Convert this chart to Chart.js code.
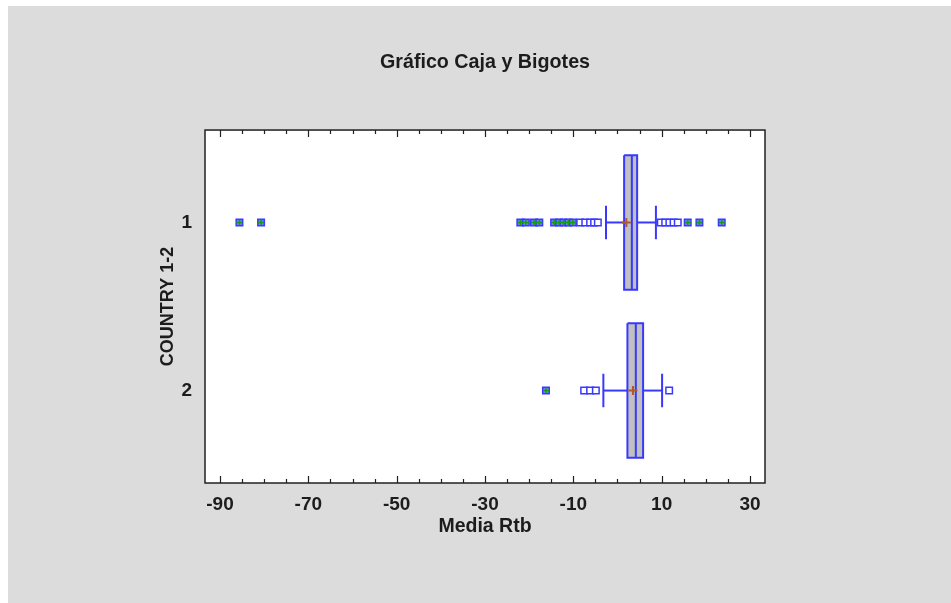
<!DOCTYPE html>
<html>
<head>
<meta charset="utf-8">
<title>Gráfico Caja y Bigotes</title>
<script src="https://cdn.jsdelivr.net/npm/chart.js@4.4.1/dist/chart.umd.min.js"></script>
<style>
    html, body { margin: 0; padding: 0; background: #ffffff; }
    #wrap { width: 951px; height: 603px; }
</style>
</head>
<body>
<div id="wrap"><canvas id="boxChart" width="951" height="603"></canvas></div>
<script>

/* ---------------- DATA ---------------- */

const groups = [1, 2];
const groupLabels = ['1', '2'];

const q1 = [1.5, 2.25];
const medians = [3.25, 4.15];
const q3 = [4.45, 5.8];
const whiskerLow = [-2.6, -3.2];
const whiskerHigh = [8.7, 10.1];
const means = [2.0, 3.5];

// outliers per group (near = inside outer fence, far = beyond it)
const nearOutliers1 = [-8.45, -7.3, -6.2, -5.3, -4.45, 9.8, 10.8, 11.75, 12.7, 13.65];
const farOutliers1 = [-85.6, -80.7, -22.0, -20.75, -18.9, -17.7, -14.35, -13.2, -12.25, -11.1, -10.1, 15.9, 18.55, 23.6];
const nearOutliers2 = [-7.55, -6.2, -4.9, 11.7];
const farOutliers2 = [-16.2];

const xTickValues = [-90, -70, -50, -30, -10, 10, 30];
const xMinorValues = [-90, -85, -80, -75, -70, -65, -60, -55, -50, -45, -40, -35, -30, -25, -20, -15, -10, -5, 0, 5, 10, 15, 20, 25, 30];

/* ---------------- STYLE ---------------- */

const BLUE = '#3838ff';
const GREEN = '#10a010';
const FONT = '"Liberation Sans", Arial, sans-serif';
const TEXT = '#1c1c1c';
const BOX_HALF = 0.4;
const CAP_HALF = 0.1;

/* ---------------- DATASETS ---------------- */

function segment(x1, y1, x2, y2, color, width) {
    return {
        data: [{ x: x1, y: y1 }, { x: x2, y: y2 }],
        showLine: true,
        borderColor: color,
        borderWidth: width,
        pointRadius: 0,
        fill: false
    };
}

function points(values, g) {
    return values.map(v => ({ x: v, y: g }));
}

const nearSets = [nearOutliers1, nearOutliers2];
const farSets = [farOutliers1, farOutliers2];

const datasets = [];

// mean markers on top of everything
datasets.push({
    data: groups.map((g, i) => ({ x: means[i], y: g })),
    pointStyle: 'cross',
    pointRadius: 4.5,
    borderColor: '#b0582c',
    borderWidth: 2
});

groups.forEach((g, i) => {

    // far outliers: green plus inside a blue square
    datasets.push({
        data: points(farSets[i], g),
        pointStyle: 'cross',
        pointRadius: 3,
        borderColor: GREEN,
        borderWidth: 1.5
    });
    datasets.push({
        data: points(farSets[i], g),
        pointStyle: 'rect',
        pointRadius: 4.6,
        backgroundColor: '#7a7aff',
        borderColor: BLUE,
        borderWidth: 1.5
    });

    // near outliers: hollow squares
    datasets.push({
        data: points(nearSets[i], g),
        pointStyle: 'rect',
        pointRadius: 4.6,
        backgroundColor: '#ffffff',
        borderColor: BLUE,
        borderWidth: 1.5
    });

    // median
    datasets.push(segment(medians[i], g - BOX_HALF, medians[i], g + BOX_HALF, BLUE, 2));

    // whiskers and caps
    datasets.push(segment(whiskerLow[i], g, q1[i], g, BLUE, 2));
    datasets.push(segment(q3[i], g, whiskerHigh[i], g, BLUE, 2));
    datasets.push(segment(whiskerLow[i], g - CAP_HALF, whiskerLow[i], g + CAP_HALF, BLUE, 2));
    datasets.push(segment(whiskerHigh[i], g - CAP_HALF, whiskerHigh[i], g + CAP_HALF, BLUE, 2));

    // box Q1..Q3
    datasets.push({
        data: [
            { x: q1[i], y: g - BOX_HALF },
            { x: q3[i], y: g - BOX_HALF },
            { x: q3[i], y: g + BOX_HALF },
            { x: q1[i], y: g + BOX_HALF },
            { x: q1[i], y: g - BOX_HALF }
        ],
        showLine: true,
        fill: 'shape',
        backgroundColor: '#c0c0c0',
        borderColor: BLUE,
        borderWidth: 2,
        pointRadius: 0
    });

});

/* ---------------- FRAME + TICKS ---------------- */

const framePlugin = {
    id: 'frame',
    beforeDraw(chart) {
        const { ctx, chartArea: a } = chart;
        ctx.save();
        ctx.fillStyle = '#ffffff';
        ctx.fillRect(0, 0, chart.width, chart.height);
        ctx.fillStyle = '#dcdcdc';
        ctx.fillRect(8, 6, chart.width - 8, chart.height - 6);
        ctx.fillStyle = '#ffffff';
        ctx.fillRect(a.left, a.top, a.right - a.left, a.bottom - a.top);
        ctx.restore();
    },
    afterDraw(chart) {
        const { ctx, chartArea: a } = chart;
        const xs = chart.scales.x;
        ctx.save();
        ctx.strokeStyle = '#202020';
        ctx.lineWidth = 1.5;
        ctx.strokeRect(a.left, a.top, a.right - a.left, a.bottom - a.top);
        ctx.lineWidth = 1.2;
        ctx.beginPath();
        xMinorValues.forEach(v => {
            const px = Math.round(xs.getPixelForValue(v)) + 0.5;
            const len = xTickValues.includes(v) ? 7 : 4;
            ctx.moveTo(px, a.bottom);
            ctx.lineTo(px, a.bottom - len);
            ctx.moveTo(px, a.top);
            ctx.lineTo(px, a.top + len);
        });
        ctx.stroke();
        ctx.restore();
    }
};

/* ---------------- CHART ---------------- */

new Chart(document.getElementById('boxChart'), {
    type: 'scatter',
    data: { datasets },
    options: {
        responsive: false,
        animation: false,
        devicePixelRatio: 1,
        layout: { padding: { left: 0, right: 186, top: 0, bottom: 0 } },
        plugins: {
            legend: { display: false },
            tooltip: { enabled: false },
            title: {
                display: true,
                text: 'Gráfico Caja y Bigotes',
                fullSize: false,
                color: TEXT,
                font: { family: FONT, size: 19.7, weight: 'bold' },
                padding: { top: 51, bottom: 55.4 }
            }
        },
        scales: {
            x: {
                type: 'linear',
                min: -93.4,
                max: 33.4,
                afterBuildTicks: scale => {
                    scale.ticks = xTickValues.map(v => ({ value: v }));
                },
                afterFit: scale => { scale.height = 120; },
                grid: { display: false, drawTicks: false },
                border: { display: false },
                ticks: {
                    color: TEXT,
                    padding: 10,
                    maxRotation: 0,
                    font: { family: FONT, size: 19, weight: 'bold' }
                },
                title: {
                    display: true,
                    text: 'Media Rtb',
                    color: TEXT,
                    font: { family: FONT, size: 19.5, weight: 'bold' },
                    padding: { bottom: 64.3 }
                }
            },
            y: {
                type: 'linear',
                reverse: true,
                min: 0.45,
                max: 2.55,
                afterBuildTicks: scale => {
                    scale.ticks = groups.map(g => ({ value: g }));
                },
                afterFit: scale => { scale.width = 205; },
                grid: { display: false, drawTicks: false },
                border: { display: false },
                ticks: {
                    color: TEXT,
                    padding: 13,
                    callback: v => groupLabels[groups.indexOf(v)],
                    font: { family: FONT, size: 19, weight: 'bold' }
                },
                title: {
                    display: true,
                    text: 'COUNTRY 1-2',
                    color: TEXT,
                    font: { family: FONT, size: 18, weight: 'bold' },
                    padding: { top: 157.2 }
                }
            }
        }
    },
    plugins: [framePlugin]
});

</script>
</body>
</html>
